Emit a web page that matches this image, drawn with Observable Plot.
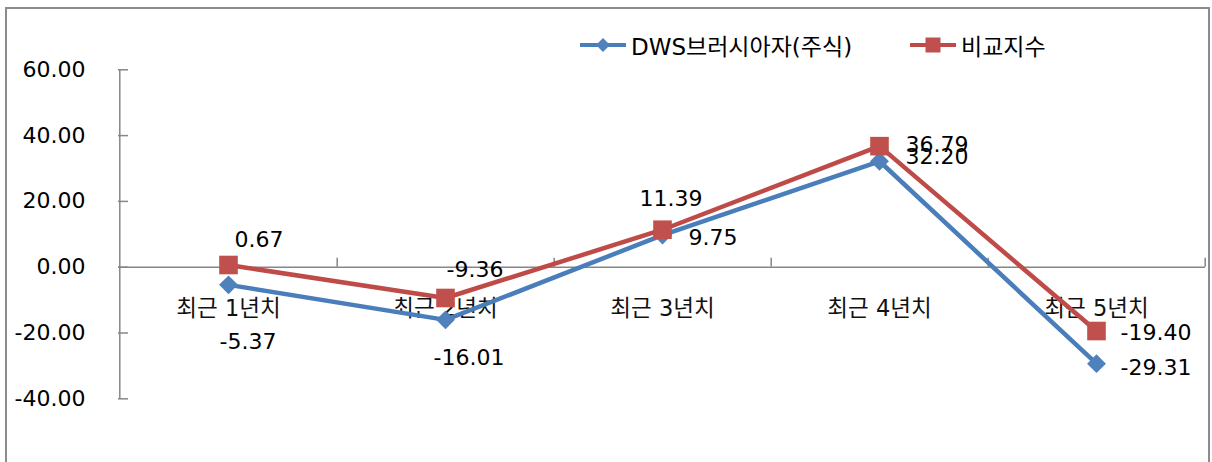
<!DOCTYPE html>
<html><head><meta charset="utf-8">
<script src="https://cdn.jsdelivr.net/npm/d3@7"></script>
<script src="https://cdn.jsdelivr.net/npm/@observablehq/plot@0.6"></script>
<style>
body{margin:0;background:#fff;font-family:"DejaVu Sans","Noto Sans CJK KR",sans-serif;}
#wrap{position:relative;width:1212px;height:462px;overflow:hidden;background:#fff;}
#legend{position:relative;height:60px;font-size:23px;color:#000;}
.item{position:absolute;top:31px;height:28px;display:flex;align-items:center;white-space:nowrap;}
.item span{margin-left:5px;}
#frame{position:absolute;left:5px;top:7px;width:1201px;height:470px;border:2px solid #8c8c8c;border-bottom:none;pointer-events:none;}
</style></head><body>
<div id="wrap"><div id="legend"></div><div id="chart"></div><div id="frame"></div></div>
<script>
// ---- data ----
const categories = ["최근 1년치", "최근 2년치", "최근 3년치", "최근 4년치", "최근 5년치"];
const seriesNames = ["DWS브러시아자(주식)", "비교지수"];
const dwsValues = [-5.37, -16.01, 9.75, 32.20, -29.31];
const indexValues = [0.67, -9.36, 11.39, 36.79, -19.40];
const yTicks = [-40, -20, 0, 20, 40, 60];

// ---- style ----
const blueLine = "#4A7EBB", blueFill = "#4F81BD", redLine = "#BE4B48", redFill = "#C0504D", axisGray = "#868686";
const W = 1212, H = 402, mL = 118, mR = 7, mT = 9.3, mB = 63.7;
const step = (W - mL - mR) / categories.length;
const unitsPerPx = 100 / (H - mT - mB);
// label nudges (pixels, relative to each point) as in the reference
const dwsLabelDx = [-9, -12, 26, 26, 24], dwsLabelDy = [57, 38, 3, -4, 4];
const idxLabelDx = [6, 1, -23, 26, 24], idxLabelDy = [-25, -28, -31, -1, 2];

const rows = categories.map((c, i) => ({c, dws: dwsValues[i], idx: indexValues[i]}));

// legend
const legend = document.getElementById("legend");
const legendDefs = [
  {name: seriesNames[0], left: 580, line: blueLine, fill: blueFill, shape: "diamond"},
  {name: seriesNames[1], left: 910, line: redLine, fill: redFill, shape: "square"}
];
for (const d of legendDefs) {
  const it = document.createElement("div");
  it.className = "item";
  it.style.left = d.left + "px";
  const marker = d.shape === "diamond"
    ? `<path d="M23,4 L30,11 L23,18 L16,11Z" fill="${d.fill}"/>`
    : `<rect x="15.5" y="3.5" width="15" height="15" fill="${d.fill}"/>`;
  it.innerHTML = `<svg width="46" height="22"><line x1="0" x2="46" y1="11" y2="11" stroke="${d.line}" stroke-width="4"/>${marker}</svg><span>${d.name}</span>`;
  legend.appendChild(it);
}

const labelMarks = (key, dxs, dys) => rows.map((r, i) =>
  Plot.text([r], {x: "c", y: key, text: d => d[key].toFixed(2), textAnchor: "start", dx: dxs[i], dy: dys[i], fill: "#000"}));

const plot = Plot.plot({
  width: W, height: H, marginLeft: mL, marginRight: mR, marginTop: mT, marginBottom: mB,
  style: {background: "transparent", fontFamily: '"DejaVu Sans","Noto Sans CJK KR",sans-serif', fontSize: "22px", color: "#000", overflow: "visible"},
  x: {type: "point", domain: categories, padding: 0.5, axis: null},
  y: {domain: [-40, 60]},
  marks: [
    Plot.ruleX([categories[0]], {dx: -step / 2, y1: -40, y2: 60, stroke: axisGray, strokeWidth: 1.5}),
    Plot.ruleY(yTicks, {y: d => d, insetRight: W - mL - mR - 10, stroke: axisGray, strokeWidth: 1.5}),
    Plot.axisY(yTicks, {tickSize: 0, tickPadding: 33, tickFormat: d => d.toFixed(2), label: null, fontSize: 22, fill: "#000"}),
    Plot.ruleY([0], {stroke: axisGray, strokeWidth: 1.5}),
    Plot.ruleX(categories, {dx: step / 2, y1: 0, y2: 9 * unitsPerPx, stroke: axisGray, strokeWidth: 1.5}),
    Plot.text(categories, {x: d => d, y: () => 0, dy: 42, fill: "#111", fontSize: 22.5}),
    Plot.line(rows, {x: "c", y: "dws", stroke: blueLine, strokeWidth: 4.5}),
    Plot.dot(rows, {x: "c", y: "dws", symbol: "diamond2", r: 8.5, fill: blueFill, stroke: "none"}),
    Plot.line(rows, {x: "c", y: "idx", stroke: redLine, strokeWidth: 4.5}),
    Plot.dot(rows, {x: "c", y: "idx", symbol: "square", r: 10.5, fill: redFill, stroke: "none"}),
    ...labelMarks("idx", idxLabelDx, idxLabelDy),
    ...labelMarks("dws", dwsLabelDx, dwsLabelDy)
  ]
});
document.getElementById("chart").appendChild(plot);
</script>
</body></html>
